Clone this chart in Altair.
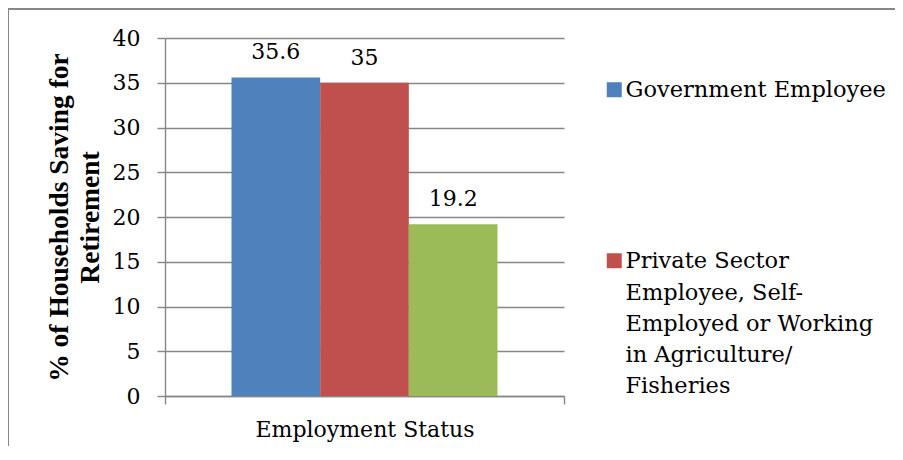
import json
import altair as alt
import pandas as pd

# ---- data ----
category = ["Employment Status"]
series = [
    "Government Employee",
    "Private Sector Employee, Self-Employed or Working in Agriculture/Fisheries",
    "Other",
]
values = [35.6, 35.0, 19.2]
value_labels = ["35.6", "35", "19.2"]
colors = ["#4F81BD", "#C0504D", "#9BBB59"]
legend_series = series[:2]
legend_lines = [
    ["Government Employee"],
    ["Private Sector", "Employee, Self-", "Employed or Working", "in Agriculture/", "Fisheries"],
]
y_ticks = [0, 5, 10, 15, 20, 25, 30, 35, 40]
y_title = ["% of Households Saving for", "Retirement"]

df = pd.DataFrame({
    "status": category * len(series),
    "series": series,
    "value": values,
    "label": value_labels,
})

# multi-line legend labels
label_expr = json.dumps(legend_lines[-1])
for name, lines in reversed(list(zip(legend_series[:-1], legend_lines[:-1]))):
    label_expr = f"datum.label == {json.dumps(name)} ? {json.dumps(lines)} : " + label_expr

REG = "DejaVu Serif"
GRID = "#878787"
W, H = 399, 358
PAD = {"left": 157, "top": 30, "right": 331, "bottom": 50}

x_enc = alt.X(
    "status:N",
    title=None,
    scale=alt.Scale(paddingInner=0, paddingOuter=0),
    axis=alt.Axis(
        labelFont=REG, labelFontSize=22, labelColor="#000000", labelAngle=0,
        labelPadding=15, labelLimit=500, tickBand="extent", tickSize=8, tickColor=GRID,
        tickWidth=1.4, domainColor=GRID, domainWidth=1.4, grid=False,
    ),
)
xoff = alt.XOffset(
    "series:N",
    sort=series,
    scale=alt.Scale(paddingInner=0, paddingOuter=0.75),
)
y_enc = alt.Y(
    "value:Q",
    scale=alt.Scale(domain=[0, 40], nice=False),
    axis=alt.Axis(
        values=y_ticks, title=y_title,
        titleFont="Liberation Serif", titleFontWeight="bold", titleFontSize=27.5,
        titleColor="#000000", titleLineHeight=31, titleAngle=-90,
        titleAlign="center", titleBaseline="alphabetic", titleX=-98, titleY=H / 2,
        labelFont=REG, labelFontSize=22, labelColor="#000000", labelPadding=17,
        tickSize=8, tickColor=GRID, tickWidth=1.4,
        domainColor=GRID, domainWidth=1.4,
        grid=True, gridColor=GRID, gridWidth=1.4,
    ),
)

bars = alt.Chart(df).mark_bar().encode(
    x=x_enc,
    xOffset=xoff,
    y=y_enc,
    color=alt.Color(
        "series:N",
        sort=series,
        scale=alt.Scale(domain=series, range=colors),
        legend=alt.Legend(
            values=legend_series, title=None, orient="none",
            legendX=438, legendY=48, padding=0,
            labelExpr=label_expr, labelFont=REG, labelFontSize=22.5,
            labelColor="#000000", labelLimit=600, labelBaseline="alphabetic",
            labelOffset=0, symbolType="M-1,-2H1V0H-1Z", symbolSize=225,
            symbolStrokeWidth=0, symbolOpacity=1, rowPadding=148,
        ),
    ),
)

texts = alt.Chart(df).mark_text(
    font=REG, fontSize=22, color="#000000", baseline="alphabetic", dy=-18
).encode(
    x="status:N",
    xOffset=alt.XOffset("series:N", sort=series),
    y="value:Q",
    text="label:N",
)

right_edge = W + PAD["right"]
bottom_edge = H + PAD["bottom"]
frame = alt.Data(values=[{}])
border_top = alt.Chart(frame).mark_rule(color=GRID, strokeWidth=2).encode(
    x=alt.value(-157), x2=alt.value(right_edge), y=alt.value(-29), y2=alt.value(-29)
)
border_left = alt.Chart(frame).mark_rule(color=GRID, strokeWidth=2).encode(
    x=alt.value(-157), x2=alt.value(-157), y=alt.value(-30), y2=alt.value(bottom_edge)
)

chart = alt.layer(bars, texts, border_top, border_left).properties(
    width=W, height=H,
    autosize=alt.AutoSizeParams(type="none"),
    padding=PAD,
).configure(
    background="white",
    style={"guide-label": {"lineHeight": 31.3}},
).configure_view(stroke=None)

chart.save("out.html", embed_options={"renderer": "svg", "actions": False})
